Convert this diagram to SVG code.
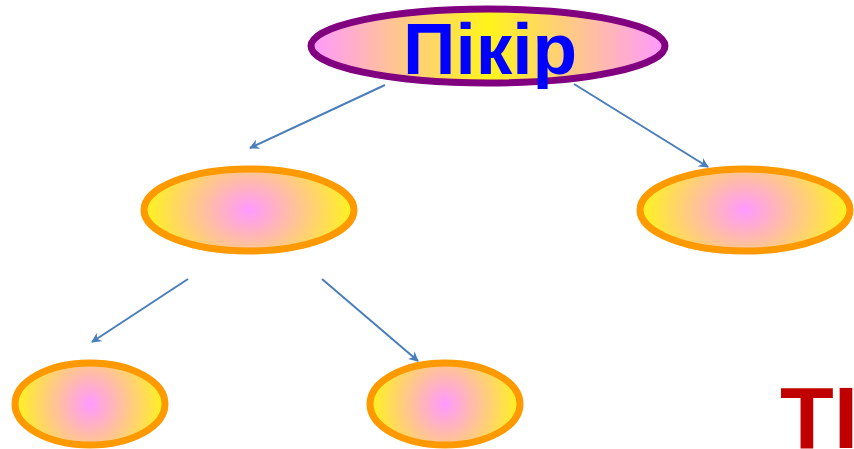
<svg xmlns="http://www.w3.org/2000/svg" width="854" height="449" viewBox="0 0 854 449">
<defs>
<linearGradient id="gTop" x1="0" y1="0" x2="1" y2="0">
<stop offset="0" stop-color="#FF99FF"/>
<stop offset="0.5" stop-color="#FFF41A"/>
<stop offset="1" stop-color="#FF99FF"/>
</linearGradient>
<radialGradient id="gNode" cx="0.5" cy="0.5" r="0.5" gradientTransform="translate(0.5 0.5) scale(1 2) translate(-0.5 -0.5)">
<stop offset="0" stop-color="#FF99FF"/>
<stop offset="1" stop-color="#FFF41A"/>
</radialGradient>
<marker id="arr" viewBox="0 0 10 10" refX="9" refY="5" markerWidth="5" markerHeight="5" orient="auto">
<path d="M0,0 L10,5 L0,10 L3,5 Z" fill="#4A7EBB"/>
</marker>
<style>
.node{fill:url(#gNode);stroke:#FF9900;stroke-width:7}
.conn{stroke:#4A7EBB;stroke-width:2;fill:none;marker-end:url(#arr)}
</style>
</defs>
<g id="connectors">
<line class="conn" x1="385" y1="85" x2="250" y2="148"/>
<line class="conn" x1="574" y1="84" x2="708" y2="167"/>
<line class="conn" x1="188" y1="279" x2="92" y2="342"/>
<line class="conn" x1="322" y1="279" x2="418" y2="361"/>
</g>
<g id="root">
<ellipse cx="488" cy="46" rx="177" ry="37" fill="url(#gTop)" stroke="#800080" stroke-width="7"/>
<text x="490" y="74" text-anchor="middle" font-family="Liberation Sans, Arial, sans-serif" font-weight="bold" font-size="73" fill="#0000FF">Пікір</text>
</g>
<g id="node-left"><ellipse class="node" cx="249" cy="210" rx="105" ry="41"/></g>
<g id="node-right"><ellipse class="node" cx="745" cy="210" rx="105" ry="41"/></g>
<g id="node-ll"><ellipse class="node" cx="90" cy="404" rx="75" ry="41"/></g>
<g id="node-lr"><ellipse class="node" cx="445" cy="404" rx="75" ry="41"/></g>
<text x="780" y="448" font-family="Liberation Sans, Arial, sans-serif" font-weight="bold" font-size="88" fill="#C00000">ТІ</text>
</svg>
